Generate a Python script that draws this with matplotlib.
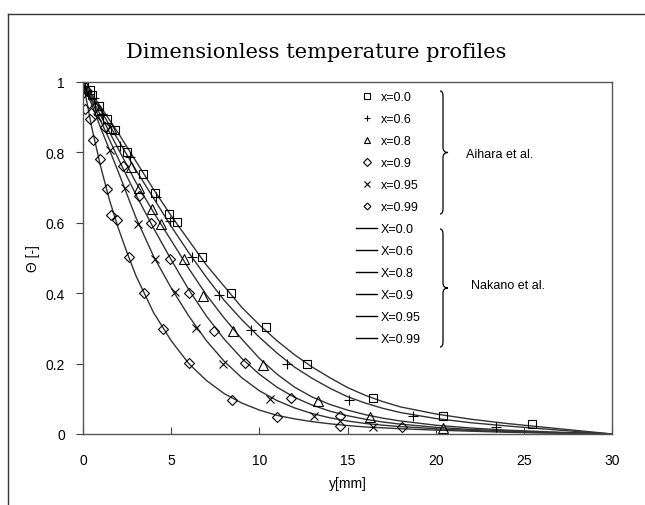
import matplotlib
matplotlib.use("Agg")
import matplotlib.pyplot as plt
from matplotlib.lines import Line2D
from matplotlib.path import Path
from matplotlib.patches import PathPatch

# Aihara et al. (measured points) : y [mm], theta [-]
y_00 = [0.05, 0.38, 0.51, 0.89, 1.38, 1.8, 2.51, 3.4, 4.07, 4.9, 5.31, 6.73, 8.39, 10.36, 12.7, 16.47, 20.44, 25.49]
t_00 = [0.997, 0.978, 0.962, 0.931, 0.896, 0.863, 0.801, 0.74, 0.686, 0.625, 0.601, 0.502, 0.40, 0.303, 0.20, 0.101, 0.051, 0.027]

y_06 = [0.1, 0.6, 1.1, 2.08, 2.65, 4.12, 4.93, 6.16, 7.71, 9.51, 11.55, 15.1, 18.7, 23.4]
t_06 = [0.99, 0.955, 0.91, 0.817, 0.787, 0.672, 0.604, 0.502, 0.396, 0.296, 0.199, 0.097, 0.05, 0.021]

y_08 = [0.15, 0.9, 1.6, 2.7, 3.15, 3.9, 4.44, 5.71, 6.79, 8.53, 10.23, 13.35, 16.28, 20.44]
t_08 = [0.985, 0.92, 0.87, 0.759, 0.70, 0.638, 0.597, 0.497, 0.393, 0.294, 0.197, 0.095, 0.047, 0.017]

y_09 = [0.2, 0.7, 1.22, 2.27, 3.18, 3.84, 4.93, 6.01, 7.43, 9.2, 11.8, 14.58, 18.07]
t_09 = [0.975, 0.93, 0.872, 0.76, 0.675, 0.60, 0.497, 0.40, 0.293, 0.202, 0.103, 0.05, 0.02]

y_095 = [0.25, 0.8, 1.51, 2.4, 3.12, 4.08, 5.22, 6.41, 7.92, 10.6, 13.1, 16.43]
t_095 = [0.965, 0.9, 0.808, 0.70, 0.597, 0.497, 0.402, 0.30, 0.20, 0.099, 0.05, 0.02]

y_099 = [0.13, 0.38, 0.57, 0.95, 1.38, 1.6, 1.95, 2.63, 3.48, 4.56, 6.01, 8.47, 10.98, 14.58]
t_099 = [0.924, 0.896, 0.834, 0.78, 0.697, 0.621, 0.607, 0.502, 0.40, 0.298, 0.202, 0.098, 0.047, 0.024]

# Nakano et al. (calculated curves)
cy_00 = [0, 1, 2, 3, 4, 5, 6, 7, 8, 9, 10, 11, 12, 13, 14, 15, 16, 17, 18, 20, 22, 24, 26, 28, 30]
ct_00 = [1.0, 0.93, 0.855, 0.775, 0.695, 0.62, 0.55, 0.48, 0.42, 0.36, 0.31, 0.265, 0.225, 0.19, 0.16, 0.132, 0.11, 0.092, 0.077, 0.057, 0.042, 0.03, 0.02, 0.01, 0.0]

cy_06 = [0, 1, 2, 3, 4, 5, 6, 7, 8, 9, 10, 11, 12, 13, 14, 15, 16, 17, 18, 20, 22, 24, 26, 28, 30]
ct_06 = [1.0, 0.92, 0.835, 0.75, 0.67, 0.59, 0.515, 0.445, 0.38, 0.325, 0.275, 0.23, 0.19, 0.158, 0.13, 0.106, 0.088, 0.073, 0.061, 0.044, 0.032, 0.023, 0.015, 0.007, 0.0]

cy_08 = [0, 1, 2, 3, 4, 5, 6, 7, 8, 9, 10, 11, 12, 13, 14, 15, 16, 17, 18, 20, 22, 24, 26, 28, 30]
ct_08 = [1.0, 0.905, 0.81, 0.715, 0.63, 0.55, 0.47, 0.395, 0.33, 0.27, 0.215, 0.17, 0.133, 0.105, 0.084, 0.068, 0.055, 0.045, 0.037, 0.025, 0.017, 0.011, 0.007, 0.003, 0.0]

cy_09 = [0, 1, 2, 3, 4, 5, 6, 7, 8, 9, 10, 11, 12, 13, 14, 15, 16, 17, 18, 20, 22, 24, 26, 28, 30]
ct_09 = [1.0, 0.89, 0.782, 0.68, 0.585, 0.495, 0.41, 0.335, 0.27, 0.215, 0.17, 0.133, 0.104, 0.082, 0.065, 0.052, 0.042, 0.034, 0.028, 0.019, 0.013, 0.009, 0.005, 0.003, 0.0]

cy_095 = [0, 1, 2, 3, 4, 5, 6, 7, 8, 9, 10, 11, 12, 13, 14, 15, 16, 17, 18, 20, 22, 24, 26, 28, 30]
ct_095 = [1.0, 0.87, 0.745, 0.615, 0.505, 0.415, 0.335, 0.265, 0.207, 0.16, 0.123, 0.095, 0.074, 0.058, 0.046, 0.037, 0.03, 0.025, 0.021, 0.015, 0.01, 0.007, 0.004, 0.002, 0.0]

cy_099 = [0, 0.5, 1, 1.5, 2, 2.5, 3, 4, 5, 6, 7, 8, 9, 10, 11, 12, 13, 14, 15, 16, 18, 20, 22, 24, 26, 28, 30]
ct_099 = [1.0, 0.87, 0.76, 0.665, 0.585, 0.515, 0.45, 0.345, 0.265, 0.2, 0.152, 0.115, 0.088, 0.068, 0.053, 0.043, 0.035, 0.029, 0.024, 0.02, 0.015, 0.011, 0.008, 0.005, 0.003, 0.002, 0.0]

exp_labels = ["x=0.0", "x=0.6", "x=0.8", "x=0.9", "x=0.95", "x=0.99"]
calc_labels = ["X=0.0", "X=0.6", "X=0.8", "X=0.9", "X=0.95", "X=0.99"]

W, H = 645, 506
fig = plt.figure(figsize=(W / 100, H / 100), dpi=100)
plt.rcParams['font.family'] = ['Liberation Sans', 'DejaVu Sans']

def fx(px):
    return px / W

def fy(py):
    return 1 - py / H

ax = fig.add_axes([fx(83), fy(435), fx(612) - fx(83), fy(83) - fy(435)])

lc = '#333333'
for cy, ct in [(cy_00, ct_00), (cy_06, ct_06), (cy_08, ct_08), (cy_09, ct_09), (cy_095, ct_095), (cy_099, ct_099)]:
    ax.plot(cy, ct, color=lc, lw=1.0)

mk = dict(linestyle='none', markerfacecolor='none', markeredgecolor='black', markeredgewidth=0.8)
ax.plot(y_00, t_00, marker='s', markersize=6, **mk)
ax.plot(y_06, t_06, marker='+', markersize=7, **mk)
ax.plot(y_08, t_08, marker='^', markersize=6.5, **mk)
ax.plot(y_09, t_09, marker='D', markersize=5.5, **mk)
ax.plot(y_095, t_095, marker='x', markersize=6, **mk)
ax.plot(y_099, t_099, marker='D', markersize=5, **mk)

ax.set_xlim(0, 30)
ax.set_ylim(0, 1)
ax.set_xticks([0, 5, 10, 15, 20, 25, 30])
ax.set_yticks([0, 0.2, 0.4, 0.6, 0.8, 1])
ax.set_yticklabels(["0", "0.2", "0.4", "0.6", "0.8", "1"])
ax.tick_params(axis='x', direction='in', length=5, pad=14, labelsize=10, color='#444444')
ax.tick_params(axis='y', direction='out', length=5, pad=8, labelsize=10, color='#444444')
for s in ax.spines.values():
    s.set_color('#555555')
    s.set_linewidth(1.0)

ax.set_xlabel("y[mm]", fontsize=10, labelpad=6)
fig.text(fx(33), fy(259), "Θ [-]", rotation=90, ha='center', va='center', fontsize=10)

fig.text(fx(316), fy(52), "Dimensionless temperature profiles", ha='center', va='center',
         fontsize=15, family=['DejaVu Serif'])

# legend
h_exp = [Line2D([], [], marker=m, markersize=s, **mk) for m, s in
         [('s', 5), ('+', 5), ('^', 5), ('D', 4), ('x', 4), ('D', 3.5)]]
h_calc = [Line2D([], [], color='black', lw=1.0) for _ in calc_labels]
leg = fig.legend(h_exp + h_calc, exp_labels + calc_labels, loc='upper left',
                 bbox_to_anchor=(fx(356), fy(92)), frameon=False, fontsize=9,
                 handlelength=1.7, handletextpad=0.3, labelspacing=0.8,
                 borderpad=0, borderaxespad=0)

def brace(x0, y_top, y_bot, w=5):
    ym = (y_top + y_bot) / 2
    verts = [(x0 - 3, y_top), (x0, y_top), (x0, y_top + 5),
             (x0, ym - 5),
             (x0, ym), (x0 + w, ym),
             (x0, ym), (x0, ym + 5),
             (x0, y_bot - 5),
             (x0, y_bot), (x0 - 3, y_bot)]
    codes = [Path.MOVETO, Path.CURVE3, Path.CURVE3, Path.LINETO,
             Path.CURVE3, Path.CURVE3, Path.CURVE3, Path.CURVE3,
             Path.LINETO, Path.CURVE3, Path.CURVE3]
    verts = [(fx(a), fy(b)) for a, b in verts]
    p = PathPatch(Path(verts, codes), transform=fig.transFigure, fill=False,
                  edgecolor='black', lw=0.9)
    fig.add_artist(p)

brace(443, 92, 215)
brace(443, 230, 348)
fig.text(fx(466), fy(155), "Aihara et al.", ha='left', va='center', fontsize=9)
fig.text(fx(471), fy(286), "Nakano et al.", ha='left', va='center', fontsize=9)

# outer frame of the chart
fig.add_artist(Line2D([fx(8), fx(8)], [fy(15), 0], transform=fig.transFigure, color='#333333', lw=1.0))
fig.add_artist(Line2D([fx(8), 1], [fy(15), fy(15)], transform=fig.transFigure, color='#333333', lw=1.0))

fig.savefig("out.png", dpi=100)
